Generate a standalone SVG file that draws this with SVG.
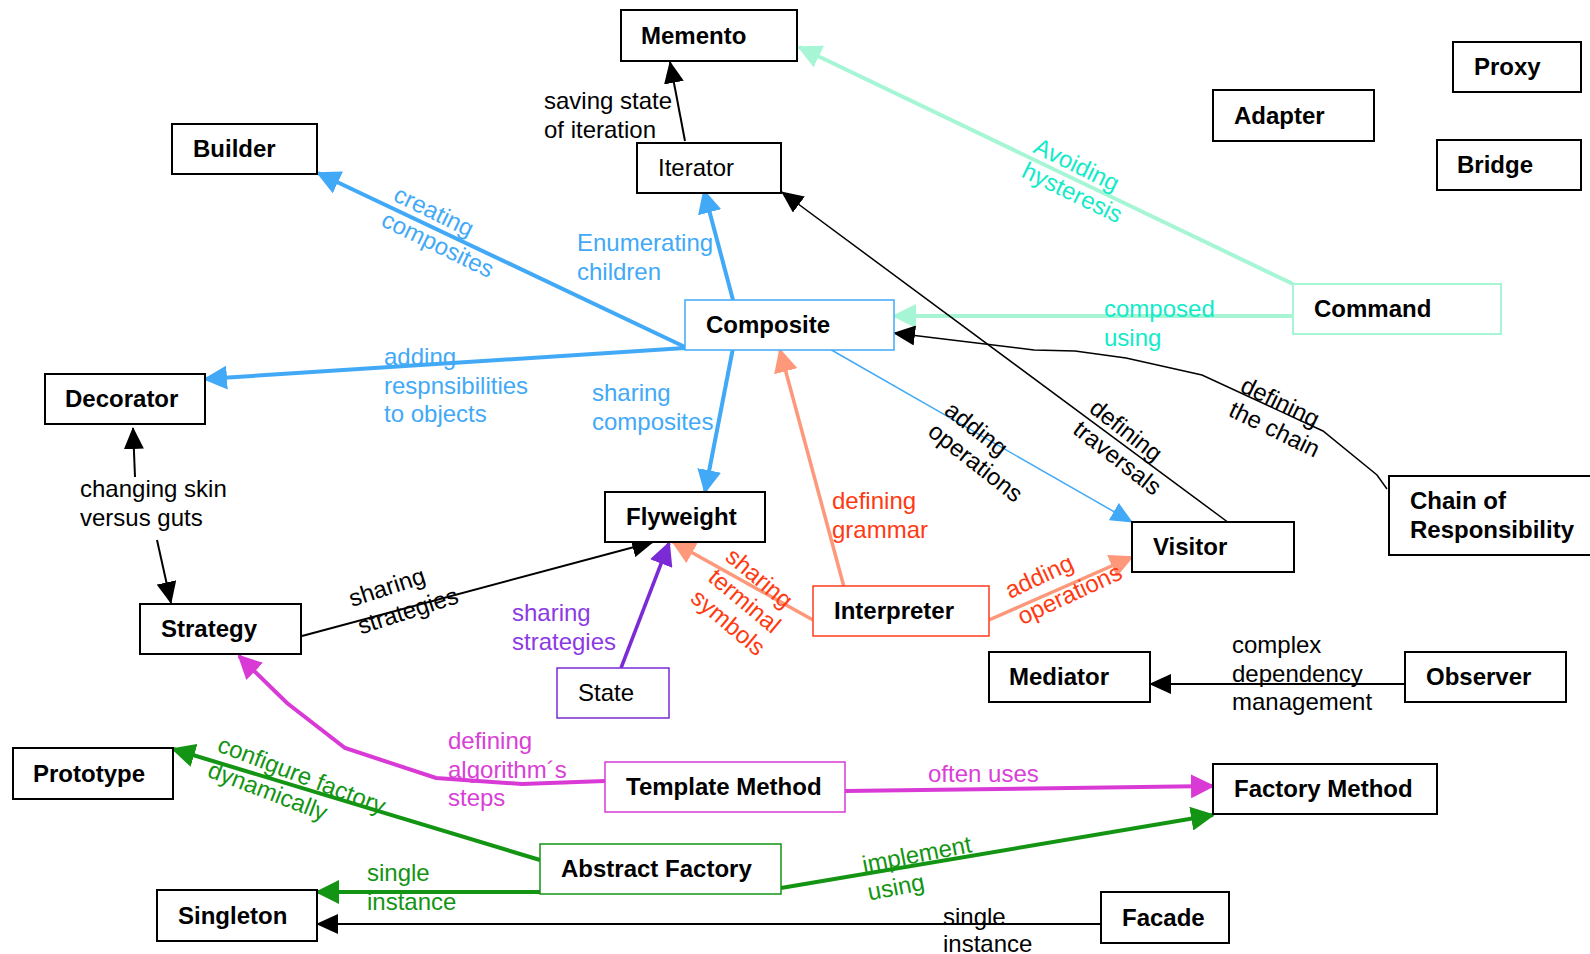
<svg xmlns="http://www.w3.org/2000/svg" width="1590" height="954" viewBox="0 0 1590 954">
  <style>
    text { font-family: "Liberation Sans", Arial, Helvetica, sans-serif; font-size: 24px; }
    .n rect { fill: #ffffff; stroke: #000000; stroke-width: 2; }
    .n text { font-weight: bold; fill: #000000; }
    .n text.plain { font-weight: normal; }
    .c { fill: none; }
    .blue { stroke: #42a9f7; }
    .mint { stroke: #a6f6d6; }
    .salmon { stroke: #fd987a; }
    .purple { stroke: #7a2bd6; }
    .magenta { stroke: #d93ad6; }
    .green { stroke: #139413; }
    .black { stroke: #000000; }
    .w4 { stroke-width: 4; }
    .w3 { stroke-width: 3.5; }
    .w2 { stroke-width: 2; }
    .w1 { stroke-width: 1.5; }
    .l-black { fill: #000000; }
    .l-blue { fill: #42a9f7; }
    .l-cyan { fill: #12eac8; }
    .l-red { fill: #ff3a12; }
    .l-purple { fill: #8c3ae4; }
    .l-magenta { fill: #d940d6; }
    .l-green { fill: #139413; }
  </style>
  <defs>
    <marker id="ah-blue" viewBox="0 0 24 24" refX="22" refY="12" markerWidth="24" markerHeight="24" markerUnits="userSpaceOnUse" orient="auto"><path d="M0,0 L24,12 L0,24 z" fill="#42a9f7"/></marker>
    <marker id="ah-blue-s" viewBox="0 0 22 20" refX="21" refY="10" markerWidth="22" markerHeight="20" markerUnits="userSpaceOnUse" orient="auto"><path d="M0,0 L22,10 L0,20 z" fill="#42a9f7"/></marker>
    <marker id="ah-mint" viewBox="0 0 24 24" refX="22" refY="12" markerWidth="24" markerHeight="24" markerUnits="userSpaceOnUse" orient="auto"><path d="M0,0 L24,12 L0,24 z" fill="#a6f6d6"/></marker>
    <marker id="ah-salmon" viewBox="0 0 24 24" refX="22" refY="12" markerWidth="24" markerHeight="24" markerUnits="userSpaceOnUse" orient="auto"><path d="M0,0 L24,12 L0,24 z" fill="#fd987a"/></marker>
    <marker id="ah-purple" viewBox="0 0 24 24" refX="22" refY="12" markerWidth="24" markerHeight="24" markerUnits="userSpaceOnUse" orient="auto"><path d="M0,0 L24,12 L0,24 z" fill="#7a2bd6"/></marker>
    <marker id="ah-magenta" viewBox="0 0 24 24" refX="22" refY="12" markerWidth="24" markerHeight="24" markerUnits="userSpaceOnUse" orient="auto"><path d="M0,0 L24,12 L0,24 z" fill="#d93ad6"/></marker>
    <marker id="ah-green" viewBox="0 0 24 24" refX="22" refY="12" markerWidth="24" markerHeight="24" markerUnits="userSpaceOnUse" orient="auto"><path d="M0,0 L24,12 L0,24 z" fill="#139413"/></marker>
    <marker id="ah-black" viewBox="0 0 22 20" refX="21" refY="10" markerWidth="22" markerHeight="20" markerUnits="userSpaceOnUse" orient="auto"><path d="M0,0 L22,10 L0,20 z" fill="#000000"/></marker>
  </defs>

  <rect x="0" y="0" width="1590" height="954" fill="#ffffff"/>

  <!-- connectors and their labels -->
  <g id="connectors">
    <!-- Iterator to Memento -->
    <line class="c black w2" x1="685" y1="141" x2="670" y2="62" marker-end="url(#ah-black)"/>
    <text class="l-black" x="544" y="109">saving state<tspan x="544" dy="29">of iteration</tspan></text>

    <!-- Composite to Builder -->
    <line class="c blue w4" x1="685" y1="347" x2="318" y2="173" marker-end="url(#ah-blue)"/>
    <text class="l-blue" transform="translate(392,200) rotate(26)">creating<tspan x="0" dy="28">composites</tspan></text>

    <!-- Composite to Iterator -->
    <line class="c blue w4" x1="733" y1="300" x2="704" y2="191" marker-end="url(#ah-blue)"/>
    <text class="l-blue" x="577" y="251">Enumerating<tspan x="577" dy="29">children</tspan></text>

    <!-- Composite to Decorator -->
    <line class="c blue w4" x1="685" y1="348" x2="205" y2="379" marker-end="url(#ah-blue)"/>
    <text class="l-blue" x="384" y="365">adding<tspan x="384" dy="28.5">respnsibilities</tspan><tspan x="384" dy="28.5">to objects</tspan></text>

    <!-- Composite to Flyweight -->
    <line class="c blue w4" x1="733" y1="348" x2="705" y2="492" marker-end="url(#ah-blue)"/>
    <text class="l-blue" x="592" y="401">sharing<tspan x="592" dy="28.5">composites</tspan></text>

    <!-- Command to Memento -->
    <line class="c mint w4" x1="1293" y1="284" x2="799" y2="47" marker-end="url(#ah-mint)"/>
    <text class="l-cyan" transform="translate(1032,152) rotate(26)">Avoiding<tspan x="0" dy="27">hysteresis</tspan></text>

    <!-- Command to Composite -->
    <line class="c mint w4" x1="1293" y1="316" x2="894" y2="316" marker-end="url(#ah-mint)"/>
    <text class="l-cyan" x="1104" y="317">composed<tspan x="1104" dy="29">using</tspan></text>

    <!-- Visitor to Iterator -->
    <line class="c black w1" x1="1229" y1="523" x2="782" y2="192" marker-end="url(#ah-black)"/>
    <text class="l-black" transform="translate(1088,411) rotate(38)">defining<tspan x="0" dy="27">traversals</tspan></text>

    <!-- Chain of Responsibility to Composite -->
    <polyline class="c black w1" points="1387,489 1377,475 1323,431 1202,375 1126,358 1075,351 1034,350 894,333" marker-end="url(#ah-black)"/>
    <text class="l-black" transform="translate(1239,391) rotate(26)">defining<tspan x="0" dy="27">the chain</tspan></text>

    <!-- Composite to Visitor -->
    <line class="c blue w1" x1="828" y1="348" x2="1132" y2="522" marker-end="url(#ah-blue-s)"/>
    <text class="l-black" transform="translate(943,413) rotate(38)">adding<tspan x="0" dy="27">operations</tspan></text>

    <!-- Interpreter to Composite -->
    <line class="c salmon w3" x1="844" y1="587" x2="780" y2="350" marker-end="url(#ah-salmon)"/>
    <text class="l-red" x="832" y="509">defining<tspan x="832" dy="28.5">grammar</tspan></text>

    <!-- Interpreter to Flyweight -->
    <line class="c salmon w3" x1="813" y1="620" x2="673" y2="542" marker-end="url(#ah-salmon)"/>
    <text class="l-red" transform="translate(724,559) rotate(40)">sharing<tspan x="0" dy="27">terminal</tspan><tspan x="0" dy="27">symbols</tspan></text>

    <!-- Interpreter to Visitor -->
    <line class="c salmon w3" x1="989" y1="620" x2="1132" y2="557" marker-end="url(#ah-salmon)"/>
    <text class="l-red" transform="translate(1010,599) rotate(-25)">adding<tspan x="0" dy="29">operations</tspan></text>

    <!-- Strategy to Flyweight -->
    <line class="c black w2" x1="302" y1="636" x2="653" y2="542" marker-end="url(#ah-black)"/>
    <text class="l-black" transform="translate(352,607) rotate(-18)">sharing<tspan x="0" dy="29">strategies</tspan></text>

    <!-- Decorator and Strategy: changing skin versus guts -->
    <line class="c black w2" x1="135" y1="477" x2="133" y2="428" marker-end="url(#ah-black)"/>
    <line class="c black w2" x1="157" y1="540" x2="171" y2="603" marker-end="url(#ah-black)"/>
    <text class="l-black" x="80" y="497">changing skin<tspan x="80" dy="28.5">versus guts</tspan></text>

    <!-- State to Flyweight -->
    <line class="c purple w3" x1="621" y1="668" x2="669" y2="543" marker-end="url(#ah-purple)"/>
    <text class="l-purple" x="512" y="621">sharing<tspan x="512" dy="28.5">strategies</tspan></text>

    <!-- Template Method to Strategy -->
    <polyline class="c magenta w4" points="605,781 522,784 436,778 345,748 287,703 239,656" marker-end="url(#ah-magenta)"/>
    <text class="l-magenta" x="448" y="749">defining<tspan x="448" dy="28.5">algorithm´s</tspan><tspan x="448" dy="28.5">steps</tspan></text>

    <!-- Template Method to Factory Method -->
    <line class="c magenta w4" x1="845" y1="791" x2="1213" y2="786" marker-end="url(#ah-magenta)"/>
    <text class="l-magenta" x="928" y="782">often uses</text>

    <!-- Abstract Factory to Prototype -->
    <line class="c green w4" x1="540" y1="860" x2="173" y2="749" marker-end="url(#ah-green)"/>
    <text class="l-green" transform="translate(216,751) rotate(21)">configure factory<tspan x="0" dy="27">dynamically</tspan></text>

    <!-- Abstract Factory to Singleton -->
    <line class="c green w4" x1="540" y1="892" x2="317" y2="892" marker-end="url(#ah-green)"/>
    <text class="l-green" x="367" y="881">single<tspan x="367" dy="28.5">instance</tspan></text>

    <!-- Abstract Factory to Factory Method -->
    <line class="c green w4" x1="781" y1="888" x2="1213" y2="815" marker-end="url(#ah-green)"/>
    <text class="l-green" transform="translate(864,873) rotate(-11)">implement<tspan x="0" dy="28">using</tspan></text>

    <!-- Facade to Singleton -->
    <line class="c black w2" x1="1101" y1="924" x2="317" y2="924" marker-end="url(#ah-black)"/>
    <text class="l-black" x="943" y="925">single<tspan x="943" dy="27">instance</tspan></text>

    <!-- Observer to Mediator -->
    <line class="c black w2" x1="1405" y1="684" x2="1150" y2="684" marker-end="url(#ah-black)"/>
    <text class="l-black" x="1232" y="653">complex<tspan x="1232" dy="28.5">dependency</tspan><tspan x="1232" dy="28.5">management</tspan></text>
  </g>

  <!-- pattern nodes -->
  <g id="memento" class="n"><rect x="621" y="10" width="176" height="51"/><text x="641" y="44">Memento</text></g>
  <g id="builder" class="n"><rect x="172" y="124" width="145" height="50"/><text x="193" y="157">Builder</text></g>
  <g id="iterator" class="n"><rect x="637" y="143" width="144" height="50"/><text class="plain" x="658" y="176">Iterator</text></g>
  <g id="composite" class="n"><rect x="685" y="300" width="209" height="50" style="stroke:#42a9f7;stroke-width:1.5"/><text x="706" y="333">Composite</text></g>
  <g id="decorator" class="n"><rect x="45" y="374" width="160" height="50"/><text x="65" y="407">Decorator</text></g>
  <g id="adapter" class="n"><rect x="1213" y="90" width="161" height="51"/><text x="1234" y="124">Adapter</text></g>
  <g id="proxy" class="n"><rect x="1453" y="42" width="128" height="50"/><text x="1474" y="75">Proxy</text></g>
  <g id="bridge" class="n"><rect x="1437" y="140" width="144" height="50"/><text x="1457" y="173">Bridge</text></g>
  <g id="command" class="n"><rect x="1293" y="284" width="208" height="50" style="stroke:#a6f6d6;stroke-width:2"/><text x="1314" y="317">Command</text></g>
  <g id="chain-of-responsibility" class="n"><rect x="1389" y="476" width="210" height="79"/><text x="1410" y="509">Chain of<tspan x="1410" dy="29">Responsibility</tspan></text></g>
  <g id="visitor" class="n"><rect x="1132" y="522" width="162" height="50"/><text x="1153" y="555">Visitor</text></g>
  <g id="flyweight" class="n"><rect x="605" y="492" width="160" height="50"/><text x="626" y="525">Flyweight</text></g>
  <g id="interpreter" class="n"><rect x="813" y="586" width="176" height="50" style="stroke:#ff3b1e;stroke-width:1.5"/><text x="834" y="619">Interpreter</text></g>
  <g id="strategy" class="n"><rect x="140" y="604" width="161" height="50"/><text x="161" y="637">Strategy</text></g>
  <g id="state" class="n"><rect x="557" y="668" width="112" height="50" style="stroke:#7a2bd6;stroke-width:1.5"/><text class="plain" x="578" y="701">State</text></g>
  <g id="mediator" class="n"><rect x="989" y="652" width="161" height="50"/><text x="1009" y="685">Mediator</text></g>
  <g id="observer" class="n"><rect x="1405" y="652" width="161" height="50"/><text x="1426" y="685">Observer</text></g>
  <g id="prototype" class="n"><rect x="13" y="748" width="160" height="51"/><text x="33" y="782">Prototype</text></g>
  <g id="template-method" class="n"><rect x="605" y="762" width="240" height="50" style="stroke:#d93ad6;stroke-width:1.5"/><text x="626" y="795">Template Method</text></g>
  <g id="factory-method" class="n"><rect x="1213" y="764" width="224" height="50"/><text x="1234" y="797">Factory Method</text></g>
  <g id="abstract-factory" class="n"><rect x="540" y="844" width="241" height="50" style="stroke:#139413;stroke-width:1.5"/><text x="561" y="877">Abstract Factory</text></g>
  <g id="singleton" class="n"><rect x="157" y="890" width="160" height="51"/><text x="178" y="924">Singleton</text></g>
  <g id="facade" class="n"><rect x="1101" y="892" width="128" height="51"/><text x="1122" y="926">Facade</text></g>
</svg>
